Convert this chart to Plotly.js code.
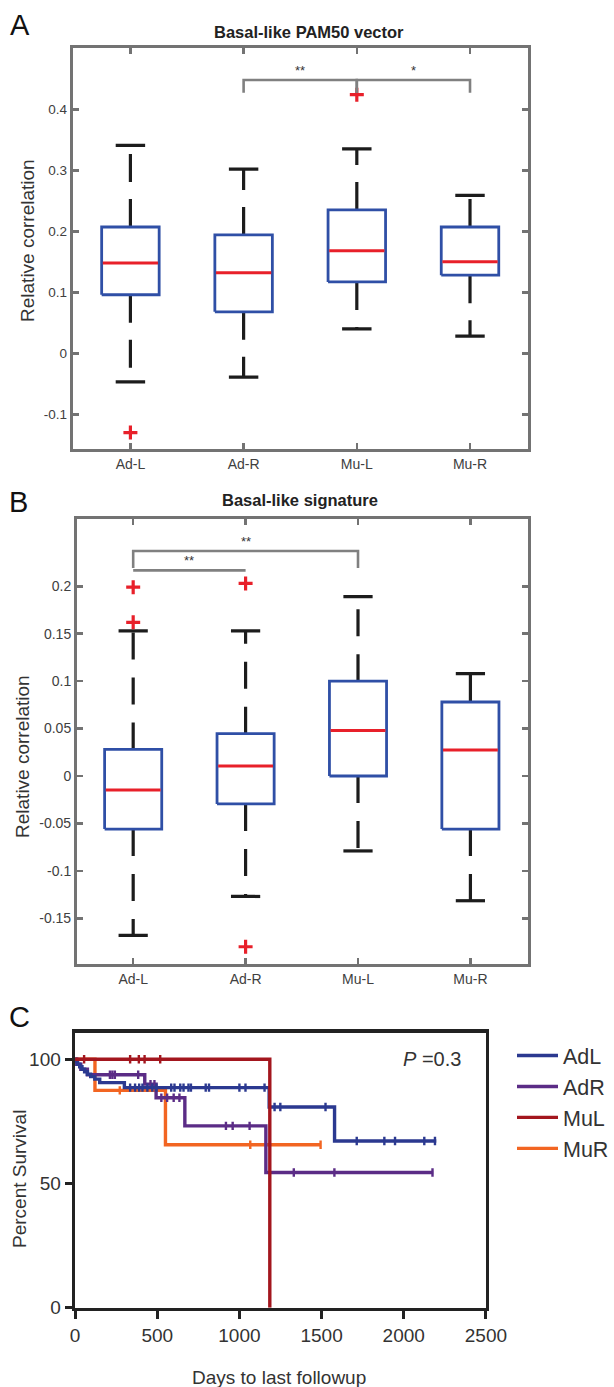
<!DOCTYPE html>
<html><head><meta charset="utf-8">
<script src="https://cdn.plot.ly/plotly-3.0.1.min.js"></script>
<style>html,body{margin:0;padding:0;background:#fff}#chart{width:614px;height:1387px}</style>
</head><body><div id="chart"></div>
<script>
// ---------------- data ----------------
const categories = ['Ad-L', 'Ad-R', 'Mu-L', 'Mu-R'];

// Panel A: Basal-like PAM50 vector (box statistics)
const pamLower  = [-0.047, -0.039, 0.040, 0.028];
const pamQ1     = [0.096, 0.068, 0.117, 0.128];
const pamMedian = [0.148, 0.132, 0.168, 0.150];
const pamQ3     = [0.207, 0.194, 0.235, 0.207];
const pamUpper  = [0.341, 0.302, 0.335, 0.259];
const pamOutlierCat = ['Ad-L', 'Mu-L'];
const pamOutlierVal = [-0.130, 0.424];
const pamTicks    = [-0.1, 0, 0.1, 0.2, 0.3, 0.4];
const pamTickText = ['-0.1', '0', '0.1', '0.2', '0.3', '0.4'];
const pamComparisons   = [['Ad-R', 'Mu-L', '**'], ['Mu-L', 'Mu-R', '*']];
const pamBracketLevel  = [0.448, 0.448];
const pamBracketLeg    = [0.021, 0.021];

// Panel B: Basal-like signature (box statistics)
const sigLower  = [-0.168, -0.127, -0.079, -0.1315];
const sigQ1     = [-0.056, -0.0295, 0.000, -0.056];
const sigMedian = [-0.0148, 0.0105, 0.048, 0.0274];
const sigQ3     = [0.028, 0.0446, 0.100, 0.078];
const sigUpper  = [0.153, 0.153, 0.189, 0.108];
const sigOutlierCat = ['Ad-L', 'Ad-L', 'Ad-R', 'Ad-R'];
const sigOutlierVal = [0.199, 0.162, 0.203, -0.180];
const sigTicks    = [-0.15, -0.1, -0.05, 0, 0.05, 0.1, 0.15, 0.2];
const sigTickText = ['-0.15', '-0.1', '-0.05', '0', '0.05', '0.1', '0.15', '0.2'];
const sigComparisons  = [['Ad-L', 'Mu-L', '**'], ['Ad-L', 'Ad-R', '**']];
const sigBracketLevel = [0.2372, 0.2168];
const sigBracketLeg   = [0.018, 0];

// Panel C: Kaplan-Meier survival
const kmGroups = ['AdL', 'AdR', 'MuL', 'MuR'];
const adlEventDays = [5, 15, 28, 42, 58, 75, 95, 120, 150, 300, 1181, 1579];
const adlEventSurv = [99.0, 98.0, 97.0, 96.0, 95.0, 94.0, 93.0, 92.0, 90.6, 88.6, 80.8, 67.1];
const adlCensorDays = [335, 365, 390, 410, 440, 470, 495, 585, 605, 640, 660, 690, 705, 795, 815, 1000, 1037, 1153, 1214, 1249, 1524, 1714, 1882, 1947, 2125, 2190];
const adlLastDay = 2198;

const adrEventDays = [10, 35, 75, 424, 493, 668, 1161];
const adrEventSurv = [98.0, 96.0, 93.8, 90.0, 84.5, 73.2, 54.4];
const adrCensorDays = [212, 227, 242, 384, 459, 483, 525, 560, 600, 635, 918, 959, 1062, 1331, 1578, 2175];
const adrLastDay = 2179;

const mulEventDays = [1185];
const mulEventSurv = [0];
const mulCensorDays = [55, 335, 388, 423, 518];
const mulLastDay = 1185;

const murEventDays = [121, 550];
const murEventSurv = [87.5, 65.6];
const murCensorDays = [272, 1066, 1494];
const murLastDay = 1494;

const kmDayTicks = [0, 500, 1000, 1500, 2000, 2500];
const kmSurvTicks = [0, 50, 100];

// ---------------- styles ----------------
const W = 614, H = 1387;
const FONT = 'Liberation Sans, Arial, sans-serif';
const BLUE = '#2f4fa6', RED = '#e8202a', BLACK = '#1c1c1c', FRAME = '#737373', BRACKET = '#808080';
const kmColors = {AdL: '#2b3990', AdR: '#5b2c86', MuL: '#a3161e', MuR: '#f26522'};
const BOX_HALF = 0.254, CAP_HALF = 0.13;
const px = v => v / W, py = v => 1 - v / H;

const traces = [];

function boxPanel(xa, ya, lower, q1, med, q3, upper, outCat, outVal, dash) {
  const pos = categories.map((c, i) => i + 1);
  // dashed whiskers (drawn from box outward)
  const wx = [], wy = [];
  pos.forEach((p, i) => { wx.push(p, p, null, p, p, null); wy.push(q3[i], upper[i], null, q1[i], lower[i], null); });
  traces.push({type: 'scatter', mode: 'lines', x: wx, y: wy, xaxis: xa, yaxis: ya, showlegend: false, hoverinfo: 'skip',
    line: {color: BLACK, width: 3.2, dash: dash}});
  // caps
  const cx = [], cy = [];
  pos.forEach((p, i) => { cx.push(p - CAP_HALF, p + CAP_HALF, null, p - CAP_HALF, p + CAP_HALF, null); cy.push(upper[i], upper[i], null, lower[i], lower[i], null); });
  traces.push({type: 'scatter', mode: 'lines', x: cx, y: cy, xaxis: xa, yaxis: ya, showlegend: false, hoverinfo: 'skip',
    line: {color: BLACK, width: 3.2}});
  // boxes
  const bx = [], by = [];
  pos.forEach((p, i) => { bx.push(p - BOX_HALF, p + BOX_HALF, p + BOX_HALF, p - BOX_HALF, p - BOX_HALF, null); by.push(q1[i], q1[i], q3[i], q3[i], q1[i], null); });
  traces.push({type: 'scatter', mode: 'lines', x: bx, y: by, xaxis: xa, yaxis: ya, showlegend: false, hoverinfo: 'skip',
    line: {color: BLUE, width: 2.8}});
  // medians
  const mx = [], my = [];
  pos.forEach((p, i) => { mx.push(p - BOX_HALF + 0.01, p + BOX_HALF - 0.01, null); my.push(med[i], med[i], null); });
  traces.push({type: 'scatter', mode: 'lines', x: mx, y: my, xaxis: xa, yaxis: ya, showlegend: false, hoverinfo: 'skip',
    line: {color: RED, width: 3}});
  // outliers
  traces.push({type: 'scatter', mode: 'markers', x: outCat.map(c => categories.indexOf(c) + 1), y: outVal,
    xaxis: xa, yaxis: ya, showlegend: false, hoverinfo: 'skip',
    marker: {symbol: 'cross-thin', size: 10, color: RED, line: {color: RED, width: 3.2}}});
}

function brackets(xa, ya, comps, levels, legs, annots, axisSuffix) {
  comps.forEach((c, i) => {
    const a = categories.indexOf(c[0]) + 1, b = categories.indexOf(c[1]) + 1;
    const x = [], y = [];
    if (legs[i] > 0) { x.push(a); y.push(levels[i] - legs[i]); }
    x.push(a, b); y.push(levels[i], levels[i]);
    if (legs[i] > 0) { x.push(b); y.push(levels[i] - legs[i]); }
    traces.push({type: 'scatter', mode: 'lines', x: x, y: y, xaxis: xa, yaxis: ya, showlegend: false, hoverinfo: 'skip',
      line: {color: BRACKET, width: 2.6}});
    annots.push({xref: 'x' + axisSuffix, yref: 'y' + axisSuffix, x: (a + b) / 2, y: levels[i], text: c[2],
      showarrow: false, yanchor: 'bottom', font: {family: FONT, size: 13, color: '#333'}});
  });
}

const annotations = [];
boxPanel('x', 'y', pamLower, pamQ1, pamMedian, pamQ3, pamUpper, pamOutlierCat, pamOutlierVal, '28px,17px');
brackets('x', 'y', pamComparisons, pamBracketLevel, pamBracketLeg, annotations, '');
boxPanel('x2', 'y2', sigLower, sigQ1, sigMedian, sigQ3, sigUpper, sigOutlierCat, sigOutlierVal, '27px,18px');
brackets('x2', 'y2', sigComparisons, sigBracketLevel, sigBracketLeg, annotations, '2');

// Kaplan-Meier
function survAt(t, days, surv) { let s = 100; days.forEach((d, i) => { if (d <= t) s = surv[i]; }); return s; }
const km = {
  AdL: [adlEventDays, adlEventSurv, adlCensorDays, adlLastDay],
  AdR: [adrEventDays, adrEventSurv, adrCensorDays, adrLastDay],
  MuL: [mulEventDays, mulEventSurv, mulCensorDays, mulLastDay],
  MuR: [murEventDays, murEventSurv, murCensorDays, murLastDay]
};
const drawOrder = ['MuR', 'AdR', 'AdL', 'MuL'];
drawOrder.forEach(g => {
  const [ed, es, cd, last] = km[g];
  const x = [0].concat(ed), y = [100].concat(es);
  if (last > ed[ed.length - 1]) { x.push(last); y.push(es[es.length - 1]); }
  traces.push({type: 'scatter', mode: 'lines', name: g, x: x, y: y, xaxis: 'x3', yaxis: 'y3',
    legendrank: kmGroups.indexOf(g) + 1, legendgroup: g,
    line: {color: kmColors[g], width: 3.4, shape: 'hv'}, hoverinfo: 'skip'});
  traces.push({type: 'scatter', mode: 'markers', x: cd, y: cd.map(t => survAt(t, ed, es)), xaxis: 'x3', yaxis: 'y3',
    legendgroup: g, showlegend: false, hoverinfo: 'skip',
    marker: {symbol: 'line-ns', size: 6, color: kmColors[g], line: {color: kmColors[g], width: 2.4}}});
});

// ---------------- layout ----------------
const boxX = (dom, range) => ({domain: dom, range: range, tickvals: [1, 2, 3, 4], ticktext: categories,
  ticks: 'inside', ticklen: 6, tickwidth: 2.5, tickcolor: FRAME, showline: true, linewidth: 3, linecolor: FRAME,
  mirror: 'ticks', showgrid: false, zeroline: false, tickfont: {family: FONT, size: 14, color: '#404040'}});
const boxY = (dom, range, tv, tt, fs) => ({domain: dom, range: range, tickvals: tv, ticktext: tt,
  ticks: 'inside', ticklen: 6, tickwidth: 2.5, tickcolor: FRAME, showline: true, linewidth: 3, linecolor: FRAME,
  mirror: 'ticks', showgrid: false, zeroline: false, tickfont: {family: FONT, size: fs, color: '#404040'}});

const txt = (x, y, text, size, extra) => Object.assign({xref: 'paper', yref: 'paper', x: px(x), y: py(y), text: text,
  showarrow: false, xanchor: 'center', yanchor: 'middle', font: {family: FONT, size: size, color: '#222'}}, extra || {});

annotations.push(
  txt(20.5, 25, 'A', 29, {font: {family: FONT, size: 29, color: '#111'}}),
  txt(18.5, 502.5, 'B', 29, {font: {family: FONT, size: 29, color: '#111'}}),
  txt(20, 1017, 'C', 29, {font: {family: FONT, size: 29, color: '#111'}}),
  txt(310, 32.3, '<b>Basal-like PAM50 vector</b>', 16.5),
  txt(300.6, 500, '<b>Basal-like signature</b>', 16.5),
  txt(27, 240, 'Relative correlation', 19, {textangle: -90, font: {family: FONT, size: 19, color: '#333'}}),
  txt(22, 756, 'Relative correlation', 19, {textangle: -90, font: {family: FONT, size: 19, color: '#333'}}),
  txt(19, 1179, 'Percent Survival', 19, {textangle: -90, font: {family: FONT, size: 19, color: '#333'}}),
  txt(279, 1377, 'Days to last followup', 19, {font: {family: FONT, size: 19, color: '#333'}}),
  txt(433, 1059, '<i>P</i> =0.3', 20, {font: {family: FONT, size: 20, color: '#333'}})
);

const layout = {
  width: W, height: H, margin: {l: 0, r: 0, t: 0, b: 0}, paper_bgcolor: '#fff', plot_bgcolor: 'rgba(0,0,0,0)',
  showlegend: true,
  xaxis:  boxX([px(72.8), px(528.6)], [0.49, 4.51]),
  yaxis:  boxY([py(449.3), py(48.3)], [-0.1574, 0.5], pamTicks, pamTickText, 13.5),
  xaxis2: Object.assign(boxX([px(77.1), px(528.6)], [0.5, 4.51]), {anchor: 'y2'}),
  yaxis2: Object.assign(boxY([py(964), py(519.3)], [-0.1982, 0.2706], sigTicks, sigTickText, 14), {anchor: 'x2'}),
  xaxis3: {domain: [px(75.2), px(486.7)], range: [0, 2500], tickvals: kmDayTicks, anchor: 'y3',
    ticks: 'outside', ticklen: 8, tickwidth: 3, tickcolor: '#222', showline: true, linewidth: 3.5, linecolor: '#222',
    mirror: true, showgrid: false, zeroline: false, tickfont: {family: FONT, size: 19, color: '#333'}},
  yaxis3: {domain: [py(1307.7), py(1032.7)], range: [0, 110.7], tickvals: kmSurvTicks, anchor: 'x3',
    ticks: 'outside', ticklen: 7, tickwidth: 3, tickcolor: '#222', showline: true, linewidth: 3.5, linecolor: '#222',
    mirror: true, showgrid: false, zeroline: false, tickfont: {family: FONT, size: 19, color: '#333'}},
  legend: {x: px(513), xanchor: 'left', y: py(1035), yanchor: 'top', font: {family: FONT, size: 21.5, color: '#333'},
    bgcolor: 'rgba(0,0,0,0)', borderwidth: 0, traceorder: 'normal', itemwidth: 41},
  annotations: annotations
};
layout.xaxis.anchor = 'y';
layout.yaxis.anchor = 'x';

Plotly.newPlot('chart', traces, layout, {staticPlot: true, displayModeBar: false});
</script>
</body></html>
